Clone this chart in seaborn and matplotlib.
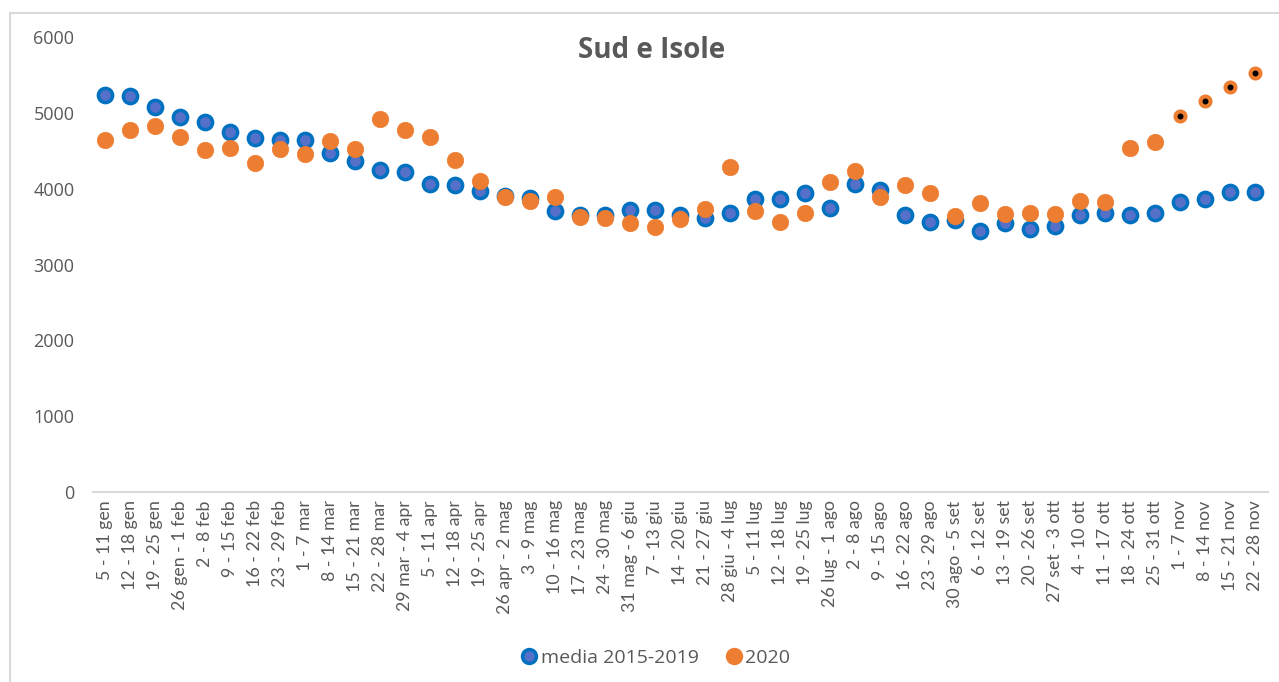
import matplotlib.pyplot as plt
import seaborn as sns
import pandas as pd
from matplotlib.lines import Line2D

# weekly labels (2020)
weeks = [
    '5 - 11 gen', '12 - 18 gen', '19 - 25 gen', '26 gen - 1 feb', '2 - 8 feb',
    '9 - 15 feb', '16 - 22 feb', '23 - 29 feb', '1 - 7 mar', '8 - 14 mar',
    '15 - 21 mar', '22 - 28 mar', '29 mar - 4 apr', '5 - 11 apr', '12 - 18 apr',
    '19 - 25 apr', '26 apr - 2 mag', '3 - 9 mag', '10 - 16 mag', '17 - 23 mag',
    '24 - 30 mag', '31 mag - 6 giu', '7 - 13 giu', '14 - 20 giu', '21 - 27 giu',
    '28 giu - 4 lug', '5 - 11 lug', '12 - 18 lug', '19 - 25 lug', '26 lug - 1 ago',
    '2 - 8 ago', '9 - 15 ago', '16 - 22 ago', '23 - 29 ago', '30 ago - 5 set',
    '6 - 12 set', '13 - 19 set', '20 - 26 set', '27 set - 3 ott', '4 - 10 ott',
    '11 - 17 ott', '18 - 24 ott', '25 - 31 ott', '1 - 7 nov', '8 - 14 nov',
    '15 - 21 nov', '22 - 28 nov',
]

media_2015_2019 = [
    5240, 5228, 5075, 4949, 4875, 4744, 4674, 4648, 4639, 4474,
    4360, 4247, 4221, 4068, 4051, 3968, 3900, 3876, 3706, 3654,
    3654, 3724, 3724, 3654, 3615, 3684, 3863, 3863, 3942, 3750,
    4064, 3985, 3649, 3566, 3588, 3440, 3549, 3466, 3506, 3649,
    3680, 3649, 3680, 3824, 3863, 3950, 3950,
]

anno_2020 = [
    4648, 4775, 4831, 4679, 4504, 4530, 4334, 4522, 4461, 4635,
    4522, 4918, 4775, 4680, 4380, 4100, 3890, 3833, 3885, 3623,
    3610, 3553, 3497, 3597, 3728, 4282, 3706, 3567, 3680, 4094,
    4234, 3894, 4051, 3937, 3636, 3811, 3671, 3680, 3671, 3841,
    3828, 4530, 4618, 4953, 5154, 5337, 5520,
]

# last weeks of 2020 are provisional (black centre)
n_provisional = 4

BLUE_EDGE = '#0070C0'
BLUE_FILL = '#5470C8'
ORANGE = '#ED7D31'
GREY = '#595959'


def main():
    df = pd.DataFrame({'settimana': weeks, 'media': media_2015_2019, 'y2020': anno_2020})
    df_def = df.iloc[:len(df) - n_provisional]
    df_prov = df.iloc[len(df) - n_provisional:]

    sns.set_theme(style='white')
    plt.rcParams['font.family'] = ['Open Sans', 'DejaVu Sans']

    fig = plt.figure(figsize=(12.79, 6.82), dpi=100)
    ax = fig.add_axes([92.5 / 1279, 190 / 682, 1175 / 1279, 455 / 682])

    sns.scatterplot(data=df, x='settimana', y='media', ax=ax, s=105,
                    color=BLUE_FILL, edgecolor=BLUE_EDGE, linewidth=2.5,
                    legend=False, zorder=3)
    sns.scatterplot(data=df_def, x='settimana', y='y2020', ax=ax, s=140,
                    color=ORANGE, edgecolor=ORANGE, linewidth=0.5,
                    legend=False, zorder=4)
    sns.scatterplot(data=df_prov, x='settimana', y='y2020', ax=ax, s=52,
                    color='black', edgecolor=ORANGE, linewidth=2.9,
                    legend=False, zorder=4)

    ax.set_xlim(-0.5, len(weeks) - 0.5)
    ax.set_ylim(0, 6000)
    ax.set_yticks(range(0, 6001, 1000))
    ax.set_xlabel('')
    ax.set_ylabel('')
    ax.grid(False)
    for side in ['top', 'right', 'left']:
        ax.spines[side].set_visible(False)
    ax.spines['bottom'].set_color('#D9D9D9')
    ax.spines['bottom'].set_linewidth(1.5)

    ax.tick_params(axis='y', length=0, pad=13, labelsize=13, labelcolor=GREY)
    ax.tick_params(axis='x', length=0, pad=6, labelsize=12.8, labelcolor=GREY)
    plt.setp(ax.get_xticklabels(), rotation=90, family=['Lato', 'DejaVu Sans'])

    fig.text(652 / 1279, 1 - 51 / 682, 'Sud e Isole', ha='center', va='center',
             fontsize=20, fontweight='bold', color=GREY)

    handles = [
        Line2D([], [], marker='o', linestyle='', markersize=10,
               markerfacecolor=BLUE_FILL, markeredgecolor=BLUE_EDGE, markeredgewidth=2.5),
        Line2D([], [], marker='o', linestyle='', markersize=11.5,
               markerfacecolor=ORANGE, markeredgecolor=ORANGE),
    ]
    fig.legend(handles, ['media 2015-2019', '2020'], loc='center',
               bbox_to_anchor=(655 / 1279, 24 / 682), ncol=2, frameon=False,
               fontsize=14, labelcolor=GREY, handletextpad=0.1,
               columnspacing=1.3, handlelength=1.0)

    # light chart-area frame (top and left edges)
    fig.add_artist(Line2D([10 / 1279, 1], [1 - 13 / 682, 1 - 13 / 682],
                          color='#D9D9D9', linewidth=1.5, transform=fig.transFigure))
    fig.add_artist(Line2D([10 / 1279, 10 / 1279], [0, 1 - 13 / 682],
                          color='#D9D9D9', linewidth=1.5, transform=fig.transFigure))

    fig.savefig('out.png', dpi=100)


if __name__ == "__main__":
    main()
